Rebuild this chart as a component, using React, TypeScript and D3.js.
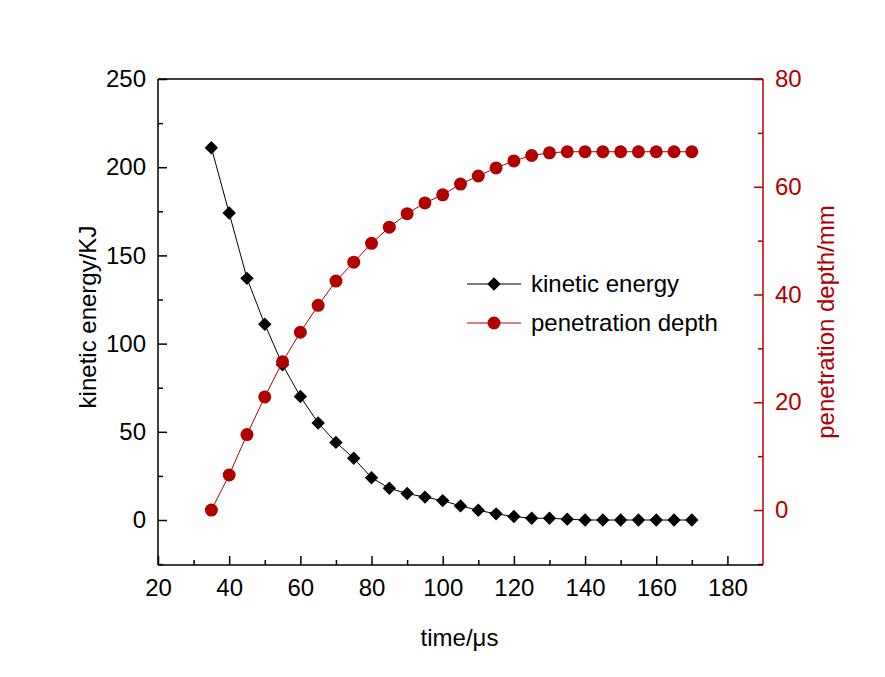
import React, { useEffect, useRef } from 'react';
import * as d3 from 'd3';

// time in µs
const times = [35, 40, 45, 50, 55, 60, 65, 70, 75, 80, 85, 90, 95, 100, 105, 110, 115, 120, 125, 130, 135, 140, 145, 150, 155, 160, 165, 170];
// kinetic energy in KJ
const energy = [211, 174, 137, 111, 88, 70, 55, 44, 35, 24, 18, 15, 13, 11, 8, 5.5, 3.5, 2, 1, 1, 0.5, 0, 0, 0, 0, 0, 0, 0];
// penetration depth in mm
const depth = [0, 6.5, 14, 21, 27.5, 33, 38, 42.5, 46, 49.5, 52.5, 55, 57, 58.5, 60.5, 62, 63.5, 64.8, 65.8, 66.3, 66.5, 66.5, 66.5, 66.5, 66.5, 66.5, 66.5, 66.5];

const xTicks = [20, 40, 60, 80, 100, 120, 140, 160, 180];
const yLeftTicks = [0, 50, 100, 150, 200, 250];
const yRightTicks = [0, 20, 40, 60, 80];

const RED = '#b00000';
const FONT = '"Liberation Sans Narrow", "Liberation Sans", Arial, sans-serif';

export default function App() {
  const ref = useRef<SVGSVGElement>(null);

  useEffect(() => {
    if (!ref.current) return;
    const svg = d3.select(ref.current);
    svg.selectAll('*').remove();

    const L = 158, R = 763, T = 79, B = 565;
    const x = d3.scaleLinear().domain([20, 190]).range([L, R]);
    const yl = d3.scaleLinear().domain([-25.5, 250]).range([B, T]);
    const yr = d3.scaleLinear().domain([-10.2, 80]).range([B, T]);

    const g = svg.append('g').attr('font-family', FONT);

    g.append('line').attr('x1', L).attr('x2', R).attr('y1', T).attr('y2', T).attr('stroke', '#000').attr('stroke-width', 1.5);

    const bottom = g.append('g').attr('transform', `translate(0,${B})`)
      .call(d3.axisBottom(x).tickValues(xTicks).tickSize(-9).tickSizeOuter(0).tickPadding(14));
    bottom.append('g').call(d3.axisBottom(x).tickValues(d3.range(30, 190, 20)).tickSize(-5).tickSizeOuter(0).tickFormat(() => ''));

    const left = g.append('g').attr('transform', `translate(${L},0)`)
      .call(d3.axisLeft(yl).tickValues(yLeftTicks).tickSize(-9).tickSizeOuter(0).tickPadding(12));
    left.append('g').call(d3.axisLeft(yl).tickValues(d3.range(-25, 250, 50)).tickSize(-5).tickSizeOuter(0).tickFormat(() => ''));

    const right = g.append('g').attr('transform', `translate(${R},0)`)
      .call(d3.axisRight(yr).tickValues(yRightTicks).tickSize(-9).tickSizeOuter(0).tickPadding(12));
    right.append('g').call(d3.axisRight(yr).tickValues(d3.range(-10, 80, 20)).tickSize(-5).tickSizeOuter(0).tickFormat(() => ''));

    [bottom, left, right].forEach((a) => {
      a.selectAll('line').attr('stroke-width', 1.5);
      a.selectAll('text').attr('font-size', 24).attr('font-family', FONT);
      a.selectAll('path').remove();
    });
    g.append('line').attr('x1', L).attr('x2', R).attr('y1', B).attr('y2', B).attr('stroke', '#000').attr('stroke-width', 1.5);
    g.append('line').attr('x1', L).attr('x2', L).attr('y1', T).attr('y2', B).attr('stroke', '#000').attr('stroke-width', 1.5);
    g.append('line').attr('x1', R).attr('x2', R).attr('y1', T).attr('y2', B).attr('stroke', RED).attr('stroke-width', 1.5);
    right.selectAll('line').attr('stroke', RED);
    right.selectAll('text').attr('fill', RED);

    const idx = d3.range(times.length);
    g.append('path').attr('d', d3.line<number>().x((i) => x(times[i])).y((i) => yl(energy[i]))(idx))
      .attr('fill', 'none').attr('stroke', '#000').attr('stroke-width', 1);
    g.append('path').attr('d', d3.line<number>().x((i) => x(times[i])).y((i) => yr(depth[i]))(idx))
      .attr('fill', 'none').attr('stroke', RED).attr('stroke-width', 1);

    const diamond = d3.symbol().type(d3.symbolSquare).size(90);
    g.selectAll('.ke').data(idx).enter().append('path')
      .attr('d', diamond())
      .attr('transform', (i) => `translate(${x(times[i])},${yl(energy[i])}) rotate(45)`)
      .attr('fill', '#000');
    g.selectAll('.pd').data(idx).enter().append('circle')
      .attr('cx', (i) => x(times[i])).attr('cy', (i) => yr(depth[i])).attr('r', 6.5)
      .attr('fill', RED);

    const lg = g.append('g');
    lg.append('line').attr('x1', 467).attr('x2', 521).attr('y1', 284).attr('y2', 284).attr('stroke', '#000');
    lg.append('path').attr('d', diamond()).attr('transform', 'translate(494,284) rotate(45)').attr('fill', '#000');
    lg.append('text').attr('x', 531).attr('y', 292).attr('font-size', 24).text('kinetic energy');
    lg.append('line').attr('x1', 467).attr('x2', 521).attr('y1', 323).attr('y2', 323).attr('stroke', RED);
    lg.append('circle').attr('cx', 494).attr('cy', 323).attr('r', 6.5).attr('fill', RED);
    lg.append('text').attr('x', 531).attr('y', 331).attr('font-size', 24).text('penetration depth');

    g.append('text').attr('x', (L + R) / 2 - 1).attr('y', 646).attr('text-anchor', 'middle').attr('font-size', 24).text('time/μs');
    g.append('text').attr('transform', `translate(96,${(T + B) / 2 - 5}) rotate(-90)`).attr('text-anchor', 'middle').attr('font-size', 24).text('kinetic energy/KJ');
    g.append('text').attr('transform', `translate(834,${(T + B) / 2 + 0}) rotate(-90)`).attr('text-anchor', 'middle').attr('font-size', 24).attr('fill', RED).text('penetration depth/mm');
  }, []);

  return <svg ref={ref} width={885} height={677} style={{ position: 'absolute', top: 0, left: 0, background: '#fff' }} />;
}
